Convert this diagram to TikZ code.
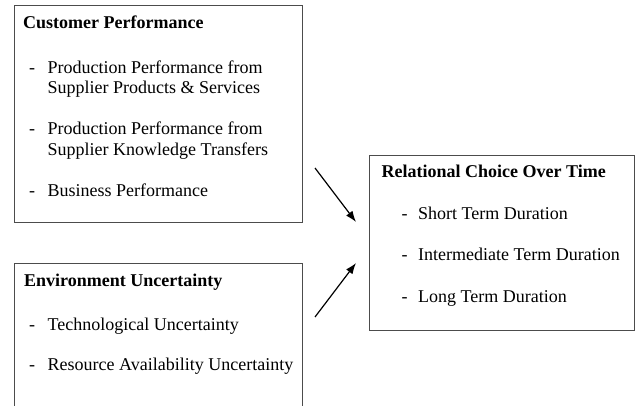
\documentclass[tikz,border=0pt]{standalone}
\usepackage{fontspec}
\setmainfont{Liberation Serif}
\usetikzlibrary{arrows.meta}

\tikzset{
    box/.style={draw=black!70, line width=1.2pt, inner sep=0pt, anchor=north west},
    head/.style={anchor=base west, inner sep=0pt, font=\fontsize{18}{20}\selectfont\bfseries},
    txt/.style={anchor=base west, inner sep=0pt, font=\fontsize{18}{20}\selectfont},
    link/.style={-{Latex[length=11pt,width=8pt]}, line width=1.2pt}
}

\begin{document}
\begin{tikzpicture}[x=1pt, y=-1pt]
    \clip (0,0) rectangle (636,406);
    \useasboundingbox (0,0) rectangle (636,406);

    % the three boxes
    \node[box, minimum width=288pt, minimum height=217pt] (cust) at (14,5) {};
    \node[box, minimum width=288pt, minimum height=160pt] (env) at (14,263) {};
    \node[box, minimum width=265pt, minimum height=175pt] (rel) at (369,155) {};

    % customer performance
    \node[head] (custhead) at (23,29) {Customer Performance};
    \node[txt] (c1d) at (29,74) {-};
    \node[txt] (c1a) at (47.5,74) {Production Performance from};
    \node[txt] (c1b) at (47.5,94) {Supplier Products \& Services};
    \node[txt] (c2d) at (29,135) {-};
    \node[txt] (c2a) at (47.5,135) {Production Performance from};
    \node[txt] (c2b) at (47.5,155) {Supplier Knowledge Transfers};
    \node[txt] (c3d) at (29,196) {-};
    \node[txt] (c3a) at (47.5,196) {Business Performance};

    % environment uncertainty
    \node[head] (envhead) at (24,286) {Environment Uncertainty};
    \node[txt] (e1d) at (29,330) {-};
    \node[txt] (e1a) at (47.5,330) {Technological Uncertainty};
    \node[txt] (e2d) at (29,370) {-};
    \node[txt] (e2a) at (47.5,370) {Resource Availability Uncertainty};

    % relational choice
    \node[head] (relhead) at (381.5,177) {Relational Choice Over Time};
    \node[txt] (r1d) at (401.5,219) {-};
    \node[txt] (r1a) at (418,219) {Short Term Duration};
    \node[txt] (r2d) at (401.5,260) {-};
    \node[txt] (r2a) at (418,260) {Intermediate Term Duration};
    \node[txt] (r3d) at (401.5,302) {-};
    \node[txt] (r3a) at (418,302) {Long Term Duration};

    % arrow ends
    \coordinate (custout) at (315,168);
    \coordinate (envout) at (315,317);
    \coordinate (relin1) at (356,222);
    \coordinate (relin2) at (356,263);

    \draw
    (custout) edge[link] (relin1)
    (envout) edge[link] (relin2);
\end{tikzpicture}
\end{document}
